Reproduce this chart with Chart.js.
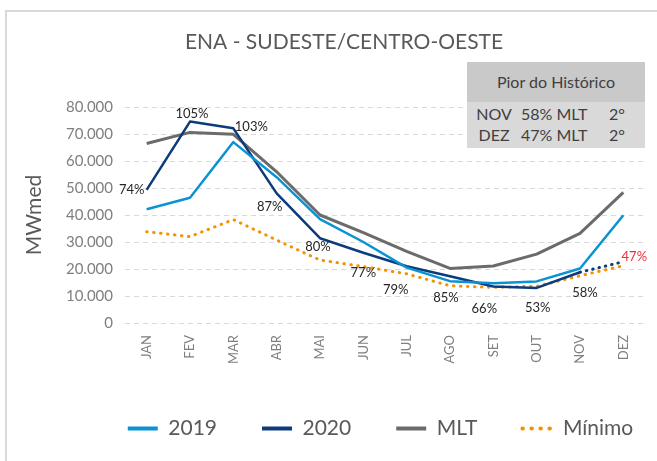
<!DOCTYPE html>
<html>
<head>
<meta charset="utf-8">
<script src="https://cdn.jsdelivr.net/npm/chart.js@4"></script>
<style>
  html, body { margin: 0; padding: 0; background: #fff; }
  #wrap { position: relative; width: 657px; height: 461px; overflow: hidden; font-family: Lato, sans-serif; }
  #frame { position: absolute; left: 5px; top: 10px; width: 700px; height: 500px; border: 2px solid #d9d9d9; box-sizing: border-box; }
  #chart { position: absolute; left: 0; top: 0; }
  #pior { position: absolute; left: 467px; top: 62px; width: 178px; color: #404040; font-size: 16px; }
  #pior .head { height: 40px; line-height: 40px; background: #c9c9c9; text-align: center; }
  #pior .body { position: relative; height: 46px; background: #d9d9d9; }
  #pior .row { position: absolute; left: 0; width: 100%; height: 21px; line-height: 21px; }
  #pior .c1 { position: absolute; left: 7px; width: 40px; text-align: center; }
  #pior .c2 { position: absolute; left: 54px; }
  #pior .c3 { position: absolute; left: 142px; }
</style>
</head>
<body>
<div id="wrap">
  <div id="frame"></div>
  <canvas id="chart" width="657" height="461"></canvas>
  <div id="pior">
    <div class="head" id="piorHead"></div>
    <div class="body" id="piorBody"></div>
  </div>
</div>
<script>
// ENA - Sudeste/Centro-Oeste (MWmed)
const TITLE = 'ENA - SUDESTE/CENTRO-OESTE'
const months = ['JAN', 'FEV', 'MAR', 'ABR', 'MAI', 'JUN', 'JUL', 'AGO', 'SET', 'OUT', 'NOV', 'DEZ']

const ena2019 = [42100, 46400, 67000, 54000, 38500, 30000, 20500, 15500, 14700, 15400, 20200, 39900]
const ena2020 = [49300, 74600, 72100, 48000, 31400, 26000, 21000, 17300, 13500, 13000, 18800, 22700]
const enaMLT = [66500, 70600, 69900, 56000, 40000, 33500, 26500, 20200, 21100, 25500, 33200, 48400]
const enaMin = [33800, 32000, 38300, 30700, 23300, 20900, 18200, 13800, 13200, 13600, 17500, 21200]

// % da MLT em 2020
const pct2020 = ['74%', '105%', '103%', '87%', '80%', '77%', '79%', '85%', '66%', '53%', '58%', '47%']

const yTickLabels = ['0', '10.000', '20.000', '30.000', '40.000', '50.000', '60.000', '70.000', '80.000']

const piorTitle = 'Pior do Histórico'
const piorRows = [
  ['NOV', '58% MLT', '2°'],
  ['DEZ', '47% MLT', '2°']
]

// deslocamento (px) de cada rótulo % em relação ao ponto de 2020
const pctOffsets = [
  [-15, 0], [2, -8], [18, -2], [-7, 13], [-2, 9], [0, 20],
  [-11, 24], [-4, 22], [-9, 22], [1, 20], [5, 21], [11, -5]
]

// tabela "Pior do Histórico"
document.getElementById('piorHead').textContent = piorTitle
const piorBody = document.getElementById('piorBody')
piorRows.forEach((r, i) => {
  const row = document.createElement('div')
  row.className = 'row'
  row.style.top = (1 + i * 21) + 'px'
  r.forEach((txt, j) => {
    const s = document.createElement('span')
    s.className = 'c' + (j + 1)
    s.textContent = txt
    row.appendChild(s)
  })
  piorBody.appendChild(row)
})

Chart.defaults.font.family = 'Lato, sans-serif'

const titlePlugin = {
  id: 'enaTitle',
  afterDraw (chart) {
    const ctx = chart.ctx
    ctx.save()
    ctx.font = '21px Lato, sans-serif'
    ctx.fillStyle = '#595959'
    ctx.textAlign = 'center'
    ctx.textBaseline = 'middle'
    ctx.fillText(TITLE, 344, 42)
    ctx.restore()
  }
}

const pctLabelsPlugin = {
  id: 'pctLabels',
  afterDatasetsDraw (chart) {
    const pts = chart.getDatasetMeta(1).data
    const ctx = chart.ctx
    ctx.save()
    ctx.font = '13px Lato, sans-serif'
    ctx.textAlign = 'center'
    ctx.textBaseline = 'middle'
    pct2020.forEach((txt, i) => {
      const [dx, dy] = pctOffsets[i]
      ctx.fillStyle = i === pct2020.length - 1 ? '#e8323c' : '#262626'
      ctx.fillText(txt, pts[i].x + dx, pts[i].y + dy)
    })
    ctx.restore()
  }
}

// a legenda do original fica deslocada para a direita
const legendShift = {
  id: 'legendShift',
  afterLayout (chart) {
    chart.legend.left += 58
    chart.legend.right += 58
  }
}

const lastIdx = months.length - 1

new Chart(document.getElementById('chart'), {
  type: 'line',
  data: {
    labels: months,
    datasets: [
      { label: '2019', data: ena2019, borderColor: '#0a93d4', backgroundColor: '#0a93d4', borderWidth: 2.5, borderJoinStyle: 'round' },
      {
        label: '2020',
        data: ena2020,
        borderColor: '#0c3b7c',
        backgroundColor: '#0c3b7c',
        borderWidth: 2.5,
        borderJoinStyle: 'round',
        segment: {
          borderDash: c => c.p1DataIndex === lastIdx ? [0.5, 6] : undefined,
          borderCapStyle: c => c.p1DataIndex === lastIdx ? 'round' : undefined,
          borderWidth: c => c.p1DataIndex === lastIdx ? 3 : undefined
        }
      },
      { label: 'MLT', data: enaMLT, borderColor: '#6b6b6b', backgroundColor: '#6b6b6b', borderWidth: 3, borderJoinStyle: 'round' },
      { label: 'Mínimo', data: enaMin, borderColor: '#f39200', backgroundColor: '#f39200', borderWidth: 3, borderDash: [0.5, 6.5], borderCapStyle: 'round' }
    ]
  },
  options: {
    responsive: false,
    animation: false,
    elements: { point: { radius: 0 }, line: { tension: 0 } },
    layout: { padding: { top: 107, right: 12, bottom: 12, left: 0 } },
    plugins: {
      title: { display: false },
      tooltip: { enabled: false },
      legend: {
        position: 'bottom',
        labels: {
          usePointStyle: true,
          pointStyleWidth: 30,
          padding: 45,
          color: '#595959',
          font: { size: 21 },
          generateLabels (chart) {
            const items = Chart.defaults.plugins.legend.labels.generateLabels(chart)
            items.forEach((it, i) => {
              it.pointStyle = 'line'
              it.lineWidth = 4
              it.lineCap = i === 3 ? 'round' : 'butt'
              it.lineDash = i === 3 ? [0.5, 8.5] : []
            })
            return items
          }
        }
      }
    },
    scales: {
      x: {
        offset: true,
        grid: { display: false, drawTicks: false },
        border: { display: false },
        ticks: { minRotation: 90, maxRotation: 90, padding: 12, color: '#7f7f7f', font: { size: 13 } },
        afterFit (scale) { scale.height = 50 }
      },
      y: {
        min: 0,
        max: 80000,
        grid: { color: '#d9d9d9', drawTicks: false },
        border: { display: false, dash: [5, 4] },
        ticks: {
          stepSize: 10000,
          autoSkip: false,
          padding: 12,
          color: '#7f7f7f',
          font: { size: 15 },
          callback: (v, i) => yTickLabels[i]
        },
        title: { display: true, text: 'MWmed', color: '#595959', font: { size: 21 }, padding: { top: 22, bottom: 0 } },
        afterFit (scale) { scale.width = 125 }
      }
    }
  },
  plugins: [pctLabelsPlugin, titlePlugin, legendShift]
})
</script>
</body>
</html>
